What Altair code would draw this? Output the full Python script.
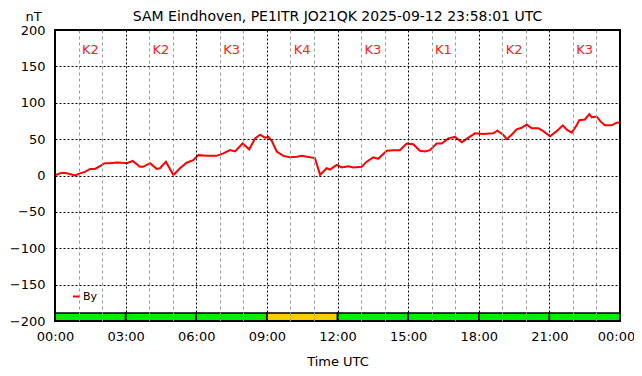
import altair as alt
import pandas as pd

# ---- data ----
hours = [0.04, 0.28, 0.50, 0.85, 1.06, 1.27, 1.49, 1.70, 1.91, 2.12, 2.34, 2.62, 2.83,
         3.05, 3.30, 3.61, 3.74, 4.04, 4.32, 4.46, 4.71, 5.03, 5.31, 5.59, 5.87, 6.09,
         6.44, 6.87, 7.15, 7.43, 7.65, 7.97, 8.25, 8.50, 8.71, 8.92, 9.06, 9.20, 9.42,
         9.70, 9.98, 10.27, 10.48, 10.83, 11.04, 11.26, 11.54, 11.68, 11.97, 12.18,
         12.46, 12.67, 13.03, 13.24, 13.52, 13.73, 14.09, 14.37, 14.65, 14.94, 15.22,
         15.50, 15.72, 15.93, 16.21, 16.43, 16.71, 16.99, 17.28, 17.56, 17.84, 18.19,
         18.62, 18.79, 19.04, 19.19, 19.40, 19.61, 19.82, 20.04, 20.25, 20.53, 20.74,
         21.03, 21.31, 21.57, 21.74, 21.95, 22.16, 22.27, 22.51, 22.70, 22.80, 23.01,
         23.18, 23.36, 23.65, 23.86, 24.0]
by_nT = [0.7, 3.9, 3, 0, 3, 5, 9, 9, 13, 17, 17, 18, 17.5,
         17, 20, 12, 12, 17, 9, 10, 19, 0.7, 10, 17.6, 21, 28,
         27, 27, 30.5, 35, 33, 44, 36, 51, 56, 52, 53, 48, 33,
         27, 25, 25.8, 27, 25, 24, 1, 10, 8, 14.4, 11,
         12.6, 11, 11.9, 19, 25, 23, 34, 34.8, 34.8, 44, 43,
         34, 33, 34.8, 44, 44, 51, 53, 45.6, 52, 58, 57,
         58, 61.6, 56, 50, 56, 63.5, 65.6, 70, 65, 65, 61,
         54, 61, 69, 63, 59, 69, 76, 77, 84.5, 80, 81,
         74, 69, 69, 72.6, 73]

k_start = [0, 3, 6, 9, 12, 15, 18, 21]
k_index = [2, 2, 3, 4, 3, 1, 2, 3]
k_label = ["K2", "K2", "K3", "K4", "K3", "K1", "K2", "K3"]

title_text = "SAM Eindhoven, PE1ITR JO21QK 2025-09-12 23:58:01 UTC"
FONT = "DejaVu Sans"

line_df = pd.DataFrame({"h": hours, "v": by_nT, "series": ["By"] * len(hours)})
k_df = pd.DataFrame({
    "h0": k_start,
    "h1": [s + 3 for s in k_start],
    "hc": [s + 1.5 for s in k_start],
    "k": k_index,
    "label": k_label,
})
k_df["status"] = ["warn" if k >= 4 else "ok" for k in k_index]
k_df["ybot"] = -200
k_df["ytop"] = -189
k_df["ytxt"] = 172
title_df = pd.DataFrame({"t": [title_text]})

x_scale = alt.Scale(domain=[0, 24], nice=False, zero=False)
y_scale = alt.Scale(domain=[-200, 200], nice=False)

label_expr = ("datum.value % 3 == 0 ? ((datum.value % 24) < 10 ? '0' : '') + "
              "(datum.value % 24) + ':00' : ''")

x_axis = alt.Axis(
    values=list(range(0, 25)),
    labelExpr=label_expr,
    labelOverlap=False,
    title="Time UTC",
    titleFont=FONT, titleFontSize=13, titleFontWeight="normal", titlePadding=12,
    titleColor="black",
    labelFont=FONT, labelFontSize=13, labelColor="black", labelPadding=9,
    labelFlush=False,
    labelOffset={"condition": {"test": "datum.value == 24", "value": -4}, "value": 0},
    ticks=False, domain=False,
    grid=True,
    gridColor={"condition": {"test": "datum.value % 3 == 0", "value": "black"}, "value": "#999999"},
    gridDash={"condition": {"test": "datum.value % 3 == 0", "value": [2, 2]}, "value": [3, 3]},
    gridWidth=1, gridOpacity=1, zindex=1,
)

y_axis = alt.Axis(
    values=[-200, -150, -100, -50, 0, 50, 100, 150, 200],
    labelOverlap=False,
    title="nT", titleAngle=0, titleX=-22, titleY=-14, titleAlign="center",
    titleBaseline="middle",
    titleFont=FONT, titleFontSize=13, titleFontWeight="normal", titleColor="black",
    labelFont=FONT, labelFontSize=13, labelColor="black", labelPadding=10,
    ticks=False, domain=False,
    grid=True, gridColor="black", gridDash=[2, 2], gridWidth=1, gridOpacity=1, zindex=1,
)

bars = alt.Chart(k_df).mark_rect(stroke="black", strokeWidth=1.5).encode(
    x=alt.X("h0:Q", scale=x_scale, axis=x_axis),
    x2="h1:Q",
    y=alt.Y("ybot:Q", scale=y_scale, axis=y_axis),
    y2="ytop:Q",
    fill=alt.Fill("status:N",
                  scale=alt.Scale(domain=["ok", "warn"], range=["#00ee00", "#ffcc00"]),
                  legend=None),
)

ktext = alt.Chart(k_df).mark_text(font=FONT, fontSize=13, color="#ff2020").encode(
    x=alt.X("hc:Q", scale=x_scale, axis=x_axis),
    y=alt.Y("ytxt:Q", scale=y_scale, axis=y_axis),
    text="label:N",
)

line = alt.Chart(line_df).mark_line(strokeWidth=2).encode(
    x=alt.X("h:Q", scale=x_scale, axis=x_axis),
    y=alt.Y("v:Q", scale=y_scale, axis=y_axis),
    stroke=alt.Stroke("series:N", scale=alt.Scale(domain=["By"], range=["#ff0000"]),
                      legend=alt.Legend(title=None, orient="none", legendX=16, legendY=261,
                                        symbolType="stroke", symbolSize=50, symbolStrokeWidth=2,
                                        labelFont=FONT, labelFontSize=11, labelColor="black",
                                        labelOffset=1, padding=0)),
)

frame = alt.Chart(k_df).mark_rect(fill=None, stroke="black", strokeWidth=1.5).encode(
    x=alt.value(0), x2=alt.value(565), y=alt.value(0), y2=alt.value(291),
)

title = alt.Chart(title_df).mark_text(font=FONT, fontSize=14, color="black",
                                      baseline="middle", align="center").encode(
    x=alt.value(282.5), y=alt.value(-13), text="t:N",
)

chart = alt.layer(bars, ktext, line, frame, title).properties(
    width=565, height=291,
    autosize=alt.AutoSizeParams(type="none"),
    padding={"left": 47, "top": 22, "right": 14, "bottom": 47},
).configure_view(stroke=None).configure(background="white")

chart.save("out.html", embed_options={"renderer": "svg", "actions": False})
